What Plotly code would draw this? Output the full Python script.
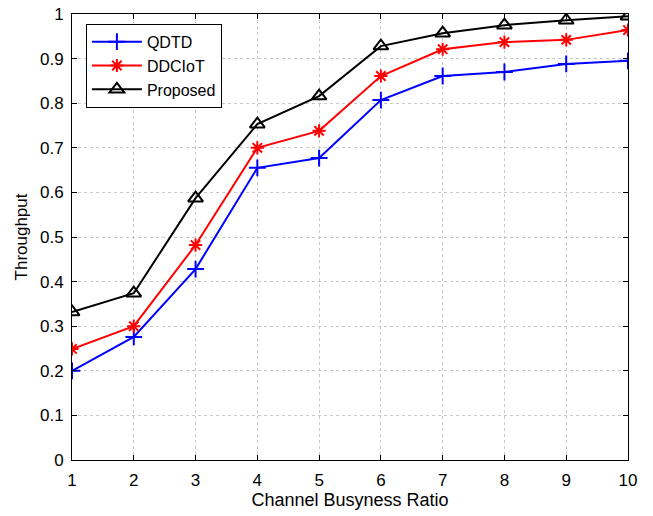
import plotly.graph_objects as go

ratio = [1, 2, 3, 4, 5, 6, 7, 8, 9, 10]
qdtd = [0.200, 0.276, 0.428, 0.655, 0.677, 0.807, 0.861, 0.870, 0.888, 0.895]
ddciot = [0.249, 0.300, 0.482, 0.700, 0.738, 0.861, 0.921, 0.937, 0.942, 0.964]
proposed = [0.332, 0.374, 0.587, 0.753, 0.816, 0.928, 0.957, 0.975, 0.986, 0.995]
y_ticks = [0, 0.1, 0.2, 0.3, 0.4, 0.5, 0.6, 0.7, 0.8, 0.9, 1]
y_tick_text = ["0", "0.1", "0.2", "0.3", "0.4", "0.5", "0.6", "0.7", "0.8", "0.9", "1"]

FONT = "Liberation Sans, Arial, sans-serif"

fig = go.Figure()
series = [
    ("QDTD", qdtd, "#0000ff", "cross-thin-open", 12),
    ("DDCIoT", ddciot, "#ff0000", "asterisk-open", 11),
    ("Proposed", proposed, "#000000", "triangle-up-open", 13),
]
for name, vals, color, symbol, size in series:
    fig.add_trace(go.Scatter(
        x=ratio, y=vals, name=name, mode="lines+markers",
        line=dict(color=color, width=2),
        marker=dict(symbol=symbol, size=size, color=color,
                    line=dict(color=color, width=2)),
    ))

axis_common = dict(
    showline=True, linecolor="black", linewidth=1, mirror="ticks",
    ticks="inside", ticklen=5, tickcolor="black",
    showgrid=True, gridcolor="#c8c8c8", griddash="dot", gridwidth=1,
    zeroline=False, automargin=False,
    tickfont=dict(family=FONT, size=17, color="black"),
)

fig.update_xaxes(
    range=[1, 10], tickvals=ratio,
    ticklabelstandoff=5,
    title=dict(text="Channel Busyness Ratio", font=dict(family=FONT, size=18, color="black"), standoff=0),
    **axis_common,
)
fig.update_yaxes(
    range=[0, 1], tickvals=y_ticks, ticktext=y_tick_text,
    ticklabelstandoff=4,
    title=dict(text="Throughput", font=dict(family=FONT, size=17, color="black"), standoff=8),
    **axis_common,
)

fig.update_layout(
    width=653, height=516,
    margin=dict(l=72, r=25, t=14, b=56),
    paper_bgcolor="white", plot_bgcolor="white",
    font=dict(family=FONT, size=16, color="black"),
    legend=dict(
        x=0.025, y=0.978, xanchor="left", yanchor="top",
        bgcolor="white", bordercolor="black", borderwidth=1,
        font=dict(family=FONT, size=16, color="black"),
        tracegroupgap=0, itemwidth=50,
    ),
)

fig.write_html("out.html")
